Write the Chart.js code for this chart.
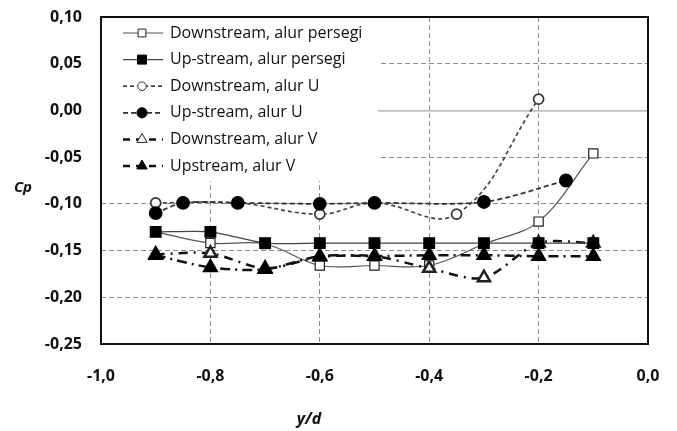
<!DOCTYPE html>
<html>
<head>
<meta charset="utf-8">
<script src="https://cdn.jsdelivr.net/npm/chart.js@4"></script>
<style>
  body { margin: 0; background: #fff; }
  #wrap { width: 677px; height: 431px; }
</style>
</head>
<body>
<div id="wrap"><canvas id="cpChart"></canvas></div>
<script>
// y/d positions and Cp values
const yd = [-0.9, -0.8, -0.7, -0.6, -0.5, -0.4, -0.3, -0.2, -0.1];
const cpDownSquare = [-0.130, -0.142, -0.143, -0.166, -0.166, -0.166, -0.143, -0.119, -0.046];
const cpUpSquare = [-0.130, -0.130, -0.142, -0.142, -0.142, -0.142, -0.142, -0.142, -0.142];

const ydDownU = [-0.9, -0.75, -0.6, -0.5, -0.35, -0.2];
const cpDownU = [-0.099, -0.099, -0.111, -0.099, -0.111, 0.012];
const ydUpU = [-0.9, -0.85, -0.75, -0.6, -0.5, -0.3, -0.15];
const cpUpU = [-0.110, -0.099, -0.099, -0.100, -0.099, -0.098, -0.075];

const cpDownV = [-0.154, -0.153, -0.169, -0.157, -0.156, -0.169, -0.179, -0.142, -0.142];
const cpUpV = [-0.155, -0.168, -0.170, -0.156, -0.156, -0.155, -0.155, -0.156, -0.156];

const seriesLabels = [
  "Downstream, alur persegi",
  "Up-stream, alur persegi",
  "Downstream, alur U",
  "Up-stream, alur U",
  "Downstream, alur V",
  "Upstream, alur V"
];

function pts(xs, ys) {
  return xs.map(function (x, i) { return { x: x, y: ys[i] }; });
}

function comma(v, d) {
  if (Math.abs(v) < 1e-9) v = 0;
  return v.toFixed(d).replace(".", ",");
}

function drawMark(ctx, style, x, y, r) {
  if (style === "rect") {
    const s = Math.SQRT1_2 * r;
    ctx.rect(x - s, y - s, 2 * s, 2 * s);
  } else if (style === "circle") {
    ctx.arc(x, y, r, 0, Math.PI * 2);
  } else {
    ctx.moveTo(x, y - r);
    ctx.lineTo(x + r * 0.866, y + r * 0.5);
    ctx.lineTo(x - r * 0.866, y + r * 0.5);
    ctx.closePath();
  }
}

// legend box drawn inside the plot, plus frame, zero line and axis titles
const extras = {
  id: "extras",
  beforeDatasetsDraw(chart) {
    const ctx = chart.ctx;
    const a = chart.chartArea;
    const y0 = chart.scales.y.getPixelForValue(0);
    ctx.save();
    ctx.strokeStyle = "#8c8c8c";
    ctx.lineWidth = 1;
    ctx.beginPath();
    ctx.moveTo(a.left, y0 + 0.5);
    ctx.lineTo(a.right, y0 + 0.5);
    ctx.stroke();
    // white legend area
    ctx.fillStyle = "#fff";
    ctx.fillRect(a.left, a.top, 277, 164);
    ctx.restore();
  },
  afterDraw(chart) {
    const ctx = chart.ctx;
    const a = chart.chartArea;
    ctx.save();
    ctx.strokeStyle = "#111";
    ctx.lineWidth = 2;
    ctx.strokeRect(a.left, a.top, a.right - a.left, a.bottom - a.top);

    // legend, in series order
    const sets = chart.data.datasets.slice().sort(function (p, q) { return p.legendIndex - q.legendIndex; });
    sets.forEach(function (ds, i) {
      const cy = a.top + 16 + i * 26.6;
      const x1 = a.left + 22, x2 = a.left + 62, mx = a.left + 41;
      ctx.strokeStyle = ds.borderColor;
      ctx.lineWidth = ds.borderWidth;
      ctx.setLineDash(ds.legendDash || ds.borderDash || []);
      ctx.beginPath();
      ctx.moveTo(x1, cy);
      ctx.lineTo(x2, cy);
      ctx.stroke();
      ctx.setLineDash([]);
      ctx.fillStyle = ds.pointBackgroundColor;
      ctx.strokeStyle = ds.pointBorderColor;
      ctx.lineWidth = 1;
      ctx.beginPath();
      drawMark(ctx, ds.pointStyle, mx, cy, ds.pointRadius * 0.85);
      ctx.fill();
      ctx.stroke();
      ctx.fillStyle = "#111";
      ctx.font = "16px 'Open Sans'";
      ctx.textAlign = "left";
      ctx.textBaseline = "middle";
      ctx.fillText(ds.label, a.left + 69, cy);
    });

    // axis titles
    ctx.fillStyle = "#111";
    ctx.font = "italic bold 15px 'Open Sans'";
    ctx.textAlign = "center";
    ctx.textBaseline = "middle";
    ctx.fillText("Cp", a.left - 78, 188);
    ctx.font = "italic bold 16px 'Open Sans'";
    ctx.fillText("y/d", a.left + 208, a.bottom + 75);
    ctx.restore();
  }
};

const datasets = [
  {
    label: seriesLabels[0], legendIndex: 0, data: pts(yd, cpDownSquare), order: 6,
    borderColor: "#555", borderWidth: 1.2, tension: 0.35,
    pointStyle: "rect", pointRadius: 6.5, pointBackgroundColor: "#fff", pointBorderColor: "#222"
  },
  {
    label: seriesLabels[1], legendIndex: 1, data: pts(yd, cpUpSquare), order: 2,
    borderColor: "#444", borderWidth: 1.3, tension: 0.2,
    pointStyle: "rect", pointRadius: 7.5, pointBackgroundColor: "#000", pointBorderColor: "#000"
  },
  {
    label: seriesLabels[2], legendIndex: 2, data: pts(ydDownU, cpDownU), order: 4,
    borderColor: "#444", borderWidth: 1.7, borderDash: [4, 3], tension: 0.4,
    pointStyle: "circle", pointRadius: 5, pointBackgroundColor: "#fff", pointBorderColor: "#333"
  },
  {
    label: seriesLabels[3], legendIndex: 3, data: pts(ydUpU, cpUpU), order: 3,
    borderColor: "#333", borderWidth: 1.8, borderDash: [5, 3], tension: 0.3,
    pointStyle: "circle", pointRadius: 6, pointBackgroundColor: "#000", pointBorderColor: "#000"
  },
  {
    label: seriesLabels[4], legendIndex: 4, data: pts(yd, cpDownV), order: 5,
    borderColor: "#111", borderWidth: 2.5, borderDash: [9, 6, 2, 6], legendDash: [7, 6],
    tension: 0.3,
    pointStyle: "triangle", pointRadius: 7, pointBackgroundColor: "#fff", pointBorderColor: "#222"
  },
  {
    label: seriesLabels[5], legendIndex: 5, data: pts(yd, cpUpV), order: 1,
    borderColor: "#111", borderWidth: 2.5, borderDash: [10, 5, 2, 5], legendDash: [7, 6],
    tension: 0.3,
    pointStyle: "triangle", pointRadius: 7, pointBackgroundColor: "#000", pointBorderColor: "#000"
  }
];

new Chart(document.getElementById("cpChart"), {
  type: "line",
  data: { datasets: datasets },
  options: {
    responsive: true,
    maintainAspectRatio: false,
    animation: false,
    layout: { padding: { left: 0, top: 17, right: 29, bottom: 0 } },
    plugins: { legend: { display: false }, tooltip: { enabled: false } },
    elements: { point: { borderWidth: 1 }, line: { fill: false } },
    scales: {
      x: {
        type: "linear", min: -1, max: 0,
        afterFit: function (s) { s.height = 87; s.paddingLeft = 0; s.paddingRight = 0; },
        ticks: {
          stepSize: 0.2, padding: 23, color: "#111",
          font: { family: "'Open Sans'", size: 16, weight: "bold" },
          callback: function (v) { return comma(v, 1); }
        },
        grid: { color: "#8c8c8c", lineWidth: 1, drawTicks: false },
        border: { display: false, dash: [5, 3] }
      },
      y: {
        min: -0.25, max: 0.10,
        afterFit: function (s) { s.width = 101; s.paddingTop = 0; s.paddingBottom = 0; },
        ticks: {
          stepSize: 0.05, padding: 19, color: "#111",
          font: { family: "'Open Sans'", size: 16, weight: "bold" },
          callback: function (v) { return comma(v, 2); }
        },
        grid: {
          color: function (c) { return Math.abs(c.tick.value) < 1e-9 ? "rgba(0,0,0,0)" : "#8c8c8c"; },
          lineWidth: 1, drawTicks: false
        },
        border: { display: false, dash: [5, 3] }
      }
    }
  },
  plugins: [extras]
});
</script>
</body>
</html>
